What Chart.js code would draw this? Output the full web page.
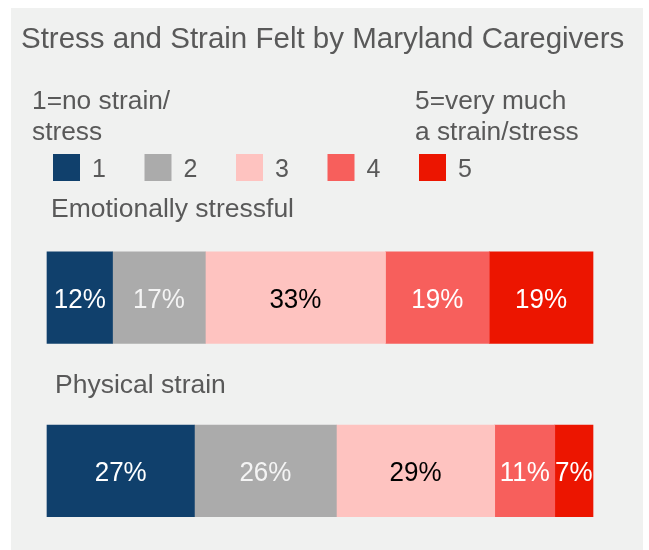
<!DOCTYPE html>
<html>
<head>
<meta charset="utf-8">
<title>Stress and Strain Felt by Maryland Caregivers</title>
<script src="https://cdn.jsdelivr.net/npm/chart.js@4.4.1/dist/chart.umd.min.js"></script>
<style>
    html, body { margin: 0; padding: 0; background: #ffffff; }
    #wrap { width: 649px; height: 550px; }
</style>
</head>
<body>
<div id="wrap"><canvas id="stressChart" width="649" height="550"></canvas></div>
<script>
// data (percent of caregivers)
const categories = ['Emotionally stressful', 'Physical strain'];
const levels = ['1', '2', '3', '4', '5'];
const level1 = [12, 27];
const level2 = [17, 26];
const level3 = [33, 29];
const level4 = [19, 11];
const level5 = [19, 7];
const titleText = 'Stress and Strain Felt by Maryland Caregivers';
const lowNote = ['1=no strain/', 'stress'];
const highNote = ['5=very much', 'a strain/stress'];

const series = [level1, level2, level3, level4, level5];
const colors = ['#10406C', '#ABABAB', '#FEC3C0', '#F75F5C', '#EC1500'];
const labelColors = ['#ffffff', '#f4f4f4', '#000000', '#ffffff', '#ffffff'];
const fontFamily = "'Liberation Sans', Arial, sans-serif";
const textGray = '#595959';

// stretch: small vertical stretch, the source text is a bit taller than Arial
function drawText(ctx, text, x, y, size, color, stretch) {
    ctx.save();
    ctx.font = size + 'px ' + fontFamily;
    ctx.fillStyle = color;
    ctx.translate(x, y);
    ctx.scale(1, stretch || 1);
    ctx.fillText(text, 0, 0);
    ctx.restore();
}

// grey panel behind everything
const panelPlugin = {
    id: 'panel',
    beforeDraw(chart) {
        const ctx = chart.ctx;
        ctx.save();
        ctx.fillStyle = '#ffffff';
        ctx.fillRect(0, 0, chart.width, chart.height);
        ctx.fillStyle = '#F0F1F0';
        ctx.fillRect(11, 8, 632, chart.height - 8);
        ctx.restore();
    }
};

// title, notes, legend, category names and value labels
const textPlugin = {
    id: 'texts',
    afterDatasetsDraw(chart) {
        const ctx = chart.ctx;
        const yScale = chart.scales.y;
        ctx.save();
        ctx.textAlign = 'left';
        ctx.textBaseline = 'alphabetic';

        drawText(ctx, titleText, 21, 48, 29.5, textGray);

        drawText(ctx, lowNote[0], 32, 109, 26.3, textGray);
        drawText(ctx, lowNote[1], 32, 140, 26.3, textGray);
        drawText(ctx, highNote[0], 415, 109, 26.3, textGray);
        drawText(ctx, highNote[1], 415, 140, 26.3, textGray);

        // legend
        chart.data.datasets.forEach((ds, i) => {
            const x = 53 + i * 91.5;
            ctx.fillStyle = ds.backgroundColor;
            ctx.fillRect(x, 154, 27, 27);
            drawText(ctx, ds.label, x + 39, 177, 25, textGray);
        });

        // category names above each bar
        const nameX = [51, 55];
        const nameDy = [-81, -77.5];
        categories.forEach((name, i) => {
            const y = yScale.getPixelForValue(i);
            drawText(ctx, name, nameX[i], y + nameDy[i], 26.5, textGray);
        });

        // value labels
        ctx.textAlign = 'center';
        chart.data.datasets.forEach((ds, i) => {
            const meta = chart.getDatasetMeta(i);
            meta.data.forEach((bar, j) => {
                drawText(ctx, ds.data[j] + '%', bar.x - (bar.x - bar.base) / 2, bar.y + 10, 26, labelColors[i], 1.08);
            });
        });
        ctx.restore();
    }
};

new Chart(document.getElementById('stressChart').getContext('2d'), {
    type: 'bar',
    data: {
        labels: categories,
        datasets: series.map((values, i) => ({
            label: levels[i],
            data: values,
            backgroundColor: colors[i],
            borderWidth: 0,
            barThickness: 91.5,
            clip: false
        }))
    },
    options: {
        indexAxis: 'y',
        responsive: false,
        animation: false,
        layout: { padding: { left: 47, right: 56, top: 297.7, bottom: 79.2 } },
        scales: {
            x: { stacked: true, min: 0, max: 100, display: false },
            y: { stacked: true, offset: false, display: false }
        },
        plugins: {
            legend: { display: false },
            title: { display: false },
            tooltip: { enabled: false }
        }
    },
    plugins: [panelPlugin, textPlugin]
});
</script>
</body>
</html>
